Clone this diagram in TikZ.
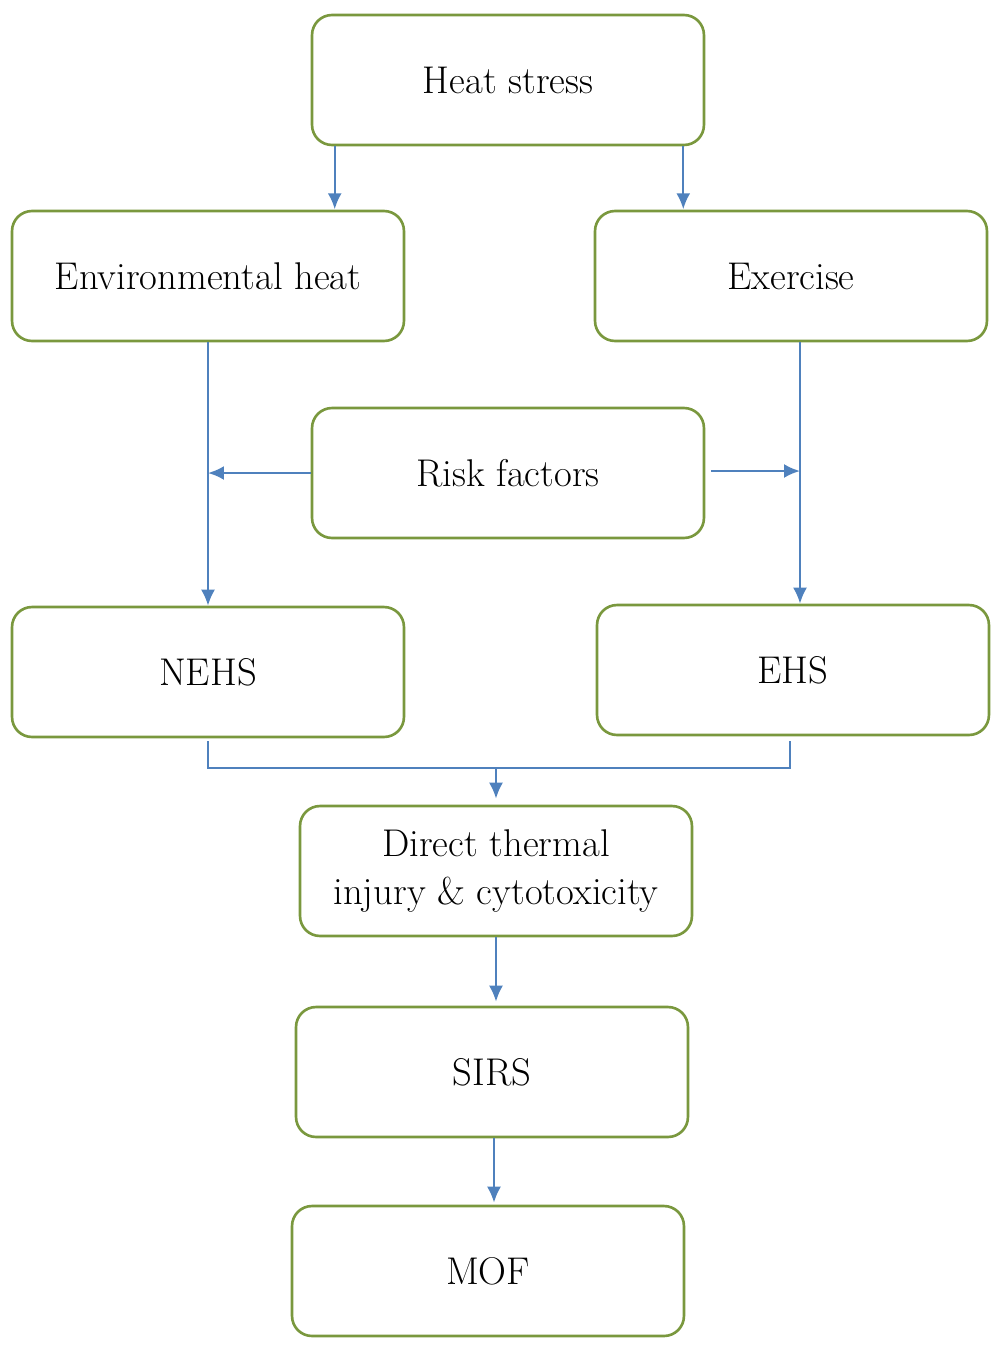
\documentclass[tikz,border=0pt]{standalone}
\usetikzlibrary{calc}
\definecolor{boxgreen}{RGB}{122,152,62}
\definecolor{arrowblue}{RGB}{79,129,189}
\tikzset{
  box/.style={draw=boxgreen,line width=1.5pt,rounded corners=0.4cm,minimum width=7.84cm,
    minimum height=2.6cm,align=center,font=\fontsize{22}{27}\selectfont},
  link/.style={draw=arrowblue,line width=1.3pt,-{Latex[length=0.32cm,width=0.28cm]}},
  joint/.style={draw=arrowblue,line width=1pt}
}
\usetikzlibrary{arrows.meta}
\begin{document}
\begin{tikzpicture}[x=0.02cm,y=-0.02cm]
\useasboundingbox (0,0) rectangle (1000,1346);
\node[box] (heat) at (508,80) {Heat stress};
\node[box] (env) at (208,276) {Environmental heat};
\node[box] (exer) at (791,276) {Exercise};
\node[box] (risk) at (508,473) {Risk factors};
\node[box] (nehs) at (208,672) {NEHS};
\node[box] (ehs) at (793,670) {EHS};
\node[box] (direct) at (496,871) {Direct thermal\\injury \& cytotoxicity};
\node[box] (sirs) at (492,1072) {SIRS};
\node[box] (mof) at (488,1271) {MOF};
% heat stress splits
\draw[link] ($(heat.south west)+(24,0)$) -- ($(heat.south west)+(24,63)$);
\draw[link] ($(heat.south east)+(-22,0)$) -- ($(heat.south east)+(-22,63)$);
% two branches
\draw[link] (env.south) -- (nehs.north);
\draw[link] ($(exer.south)+(9,0)$) -- ($(ehs.north)+(7,0)$);
\draw[link] (risk.west) -- (risk.west -| env.south);
\coordinate (rr) at ($(risk.east)+(6,-2)$);
\draw[link] (rr) -- (rr -| {$(exer.south)+(9,0)$});
% merge
\coordinate (m) at ($(direct.north)+(0,-37)$);
\draw[joint] ($(nehs.south)+(0,3)$) |- (m) -| ($(ehs.south)+(-3,5)$);
\draw[link] (m) -- ($(direct.north)+(0,-6)$);
\draw[link] (direct.south) -- ($(sirs.north)+(4,-4)$);
\draw[link] ($(sirs.south)+(2,0)$) -- ($(mof.north)+(6,-2)$);
\end{tikzpicture}
\end{document}
